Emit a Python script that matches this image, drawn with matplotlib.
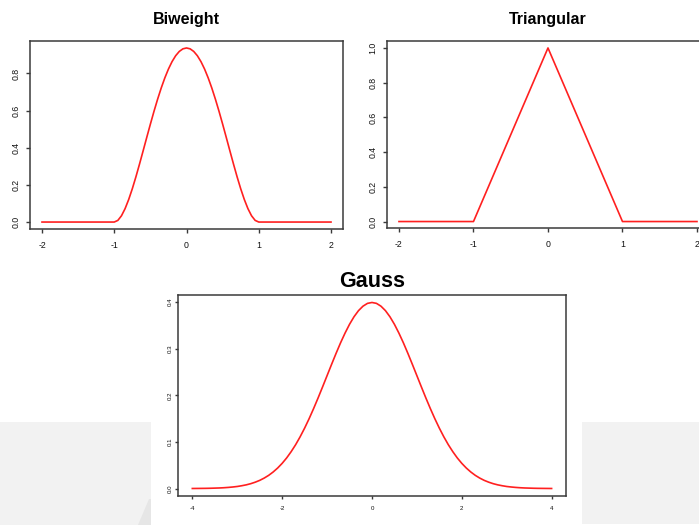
import matplotlib
matplotlib.use('Agg')
import matplotlib.pyplot as plt
from matplotlib.patches import Rectangle, Polygon

# --- data ---
biweight_x = [-2.0, -1.0, -0.95, -0.9, -0.85, -0.8, -0.75, -0.7, -0.65, -0.6, -0.55, -0.5,
              -0.45, -0.4, -0.35, -0.3, -0.25, -0.2, -0.15, -0.1, -0.05, 0.0,
              0.05, 0.1, 0.15, 0.2, 0.25, 0.3, 0.35, 0.4, 0.45, 0.5,
              0.55, 0.6, 0.65, 0.7, 0.75, 0.8, 0.85, 0.9, 0.95, 1.0, 2.0]
biweight_y = [0.0, 0.0, 0.0089, 0.0338, 0.0722, 0.1215, 0.1794, 0.2438, 0.3127, 0.3840, 0.4561, 0.5273,
              0.5963, 0.6615, 0.7219, 0.7763, 0.8240, 0.8640, 0.8958, 0.9188, 0.9328, 0.9375,
              0.9328, 0.9188, 0.8958, 0.8640, 0.8240, 0.7763, 0.7219, 0.6615, 0.5963, 0.5273,
              0.4561, 0.3840, 0.3127, 0.2438, 0.1794, 0.1215, 0.0722, 0.0338, 0.0089, 0.0, 0.0]

triangular_x = [-2.0, -1.0, 0.0, 1.0, 2.0]
triangular_y = [0.0, 0.0, 1.0, 0.0, 0.0]

gauss_x = [-4.0, -3.9, -3.8, -3.7, -3.6, -3.5, -3.4, -3.3, -3.2, -3.1,
           -3.0, -2.9, -2.8, -2.7, -2.6, -2.5, -2.4, -2.3, -2.2, -2.1,
           -2.0, -1.9, -1.8, -1.7, -1.6, -1.5, -1.4, -1.3, -1.2, -1.1,
           -1.0, -0.9, -0.8, -0.7, -0.6, -0.5, -0.4, -0.3, -0.2, -0.1,
           0.0, 0.1, 0.2, 0.3, 0.4, 0.5, 0.6, 0.7, 0.8, 0.9,
           1.0, 1.1, 1.2, 1.3, 1.4, 1.5, 1.6, 1.7, 1.8, 1.9,
           2.0, 2.1, 2.2, 2.3, 2.4, 2.5, 2.6, 2.7, 2.8, 2.9,
           3.0, 3.1, 3.2, 3.3, 3.4, 3.5, 3.6, 3.7, 3.8, 3.9, 4.0]
gauss_y = [0.0001, 0.0002, 0.0003, 0.0004, 0.0006, 0.0009, 0.0012, 0.0017, 0.0024, 0.0033,
           0.0044, 0.0060, 0.0079, 0.0104, 0.0136, 0.0175, 0.0224, 0.0283, 0.0355, 0.0440,
           0.0540, 0.0656, 0.0790, 0.0940, 0.1109, 0.1295, 0.1497, 0.1714, 0.1942, 0.2179,
           0.2420, 0.2661, 0.2897, 0.3123, 0.3332, 0.3521, 0.3683, 0.3814, 0.3910, 0.3970,
           0.3989, 0.3970, 0.3910, 0.3814, 0.3683, 0.3521, 0.3332, 0.3123, 0.2897, 0.2661,
           0.2420, 0.2179, 0.1942, 0.1714, 0.1497, 0.1295, 0.1109, 0.0940, 0.0790, 0.0656,
           0.0540, 0.0440, 0.0355, 0.0283, 0.0224, 0.0175, 0.0136, 0.0104, 0.0079, 0.0060,
           0.0044, 0.0033, 0.0024, 0.0017, 0.0012, 0.0009, 0.0006, 0.0004, 0.0003, 0.0002, 0.0001]

biweight_xticks = [-2, -1, 0, 1, 2]
biweight_yticks = [0.0, 0.2, 0.4, 0.6, 0.8]
triangular_xticks = [-2, -1, 0, 1, 2]
triangular_yticks = [0.0, 0.2, 0.4, 0.6, 0.8, 1.0]
gauss_xticks = [-4, -2, 0, 2, 4]
gauss_yticks = [0.0, 0.1, 0.2, 0.3, 0.4]

FONT = 'Liberation Sans'
BOX = '#3a3a3a'
RED = '#ff2020'

fig = plt.figure(figsize=(6.99, 5.25), dpi=100)
fig.patch.set_facecolor('white')

# slide background blocks behind the lower plot
fig.add_artist(Rectangle((0, 0), 0.216, 0.1962, transform=fig.transFigure,
                         facecolor='#f2f2f2', edgecolor='none', zorder=0))
fig.add_artist(Rectangle((0.8326, 0.002), 0.1674, 0.1942, transform=fig.transFigure,
                         facecolor='#f2f2f2', edgecolor='none', zorder=0))
fig.add_artist(Polygon([(0.198, 0.0), (0.216, 0.0), (0.216, 0.05), (0.213, 0.05)], closed=True,
                       transform=fig.transFigure, facecolor='#e6e6e6',
                       edgecolor='none', zorder=0))


def style_panel(ax, title, xticks, yticks, xlim, ylim, tick_size, title_size,
                title_pad, xpad, ypad, tlen):
    ax.set_facecolor('white')
    ax.set_xlim(*xlim)
    ax.set_ylim(*ylim)
    ax.set_xticks(xticks)
    ax.set_yticks(yticks)
    ax.set_xticklabels([f'{t:g}' for t in xticks], fontfamily=FONT)
    ax.set_yticklabels([f'{t:.1f}' for t in yticks], fontfamily=FONT)
    ax.tick_params(axis='both', direction='out', length=tlen, width=1.0, color=BOX,
                   labelsize=tick_size, labelcolor='#111111')
    ax.tick_params(axis='x', pad=xpad)
    ax.tick_params(axis='y', pad=ypad, labelrotation=90)
    for lab in ax.get_yticklabels():
        lab.set_va('center')
    for sp in ax.spines.values():
        sp.set_color(BOX)
        sp.set_linewidth(1.1)
    ax.set_title(title, fontsize=title_size, fontweight='bold', fontfamily=FONT,
                 pad=title_pad, color='black')


ax1 = fig.add_axes([0.04292, 0.5638, 0.4478, 0.3581])
ax1.plot(biweight_x, biweight_y, color=RED, linewidth=1.2)
style_panel(ax1, 'Biweight', biweight_xticks, biweight_yticks,
            (-2.166, 2.166), (-0.0375, 0.975), 6.3, 11.5, 12, 5.5, 3.5, 3)

ax2 = fig.add_axes([0.5531, 0.5648, 0.4617, 0.3571])
ax2.plot(triangular_x, triangular_y, color=RED, linewidth=1.2)
style_panel(ax2, 'Triangular', triangular_xticks, triangular_yticks,
            (-2.166, 2.166), (-0.04, 1.04), 6.3, 11.5, 12, 5.5, 3.5, 3)

ax3 = fig.add_axes([0.2546, 0.05524, 0.5551, 0.3829])
ax3.plot(gauss_x, gauss_y, color=RED, linewidth=1.2)
style_panel(ax3, 'Gauss', gauss_xticks, gauss_yticks,
            (-4.32, 4.32), (-0.016, 0.415), 4.4, 15.5, 6, 5, 1.5, 2)

fig.savefig('out.png', dpi=100)
